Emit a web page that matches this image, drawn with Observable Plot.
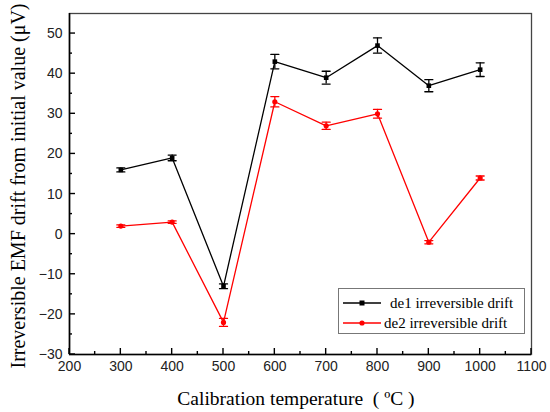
<!DOCTYPE html>
<html><head><meta charset="utf-8">
<script src="https://cdn.jsdelivr.net/npm/d3@7"></script>
<script src="https://cdn.jsdelivr.net/npm/@observablehq/plot@0.6"></script>
<style>
body{margin:0;background:#fff;}
#chart{position:relative;width:550px;height:412px;}
</style></head>
<body><div id="chart"></div>
<script>
const temps = [300, 400, 500, 600, 700, 800, 900, 1000];
const de1 = [16, 19, -13, 43, 39, 47, 37, 41];
const de1Err = [0.5, 0.7, 0.6, 1.8, 1.6, 1.9, 1.5, 1.7];
const de2 = [2, 3, -22, 33, 27, 30, -2, 14];
const de2Err = [0.3, 0.3, 1.0, 1.3, 0.9, 1.1, 0.4, 0.5];
const xDomain = [200, 1100];
const yDomain = [-30, 55];
const xTicks = [200, 300, 400, 500, 600, 700, 800, 900, 1000, 1100];
const xMinor = [250, 350, 450, 550, 650, 750, 850, 950, 1050];
const yTicks = [-30, -20, -10, 0, 10, 20, 30, 40, 50];
const yMinor = [-25, -15, -5, 5, 15, 25, 35, 45];
const seriesNames = ["de1 irreversible drift", "de2 irreversible drift"];
const colors = ["#000000", "#ff0000"];

const s1 = temps.map((t, i) => ({x: t, y: de1[i], lo: de1[i] - de1Err[i], hi: de1[i] + de1Err[i]}));
const s2 = temps.map((t, i) => ({x: t, y: de2[i], lo: de2[i] - de2Err[i], hi: de2[i] + de2Err[i]}));

const font = "Liberation Sans, Arial, sans-serif";
const serif = "Liberation Serif, Times New Roman, serif";

const lineShape = {draw(context, l) { context.moveTo(0, 0); context.lineTo(0, -l); }};

function seriesMarks(data, color, symbol) {
  return [
    Plot.line(data, {x: "x", y: "y", stroke: color, strokeWidth: 1.3}),
    Plot.ruleX(data, {x: "x", y1: "lo", y2: "hi", stroke: color, strokeWidth: 1.3}),
    Plot.vector(data, {x: "x", y: "hi", length: 8, rotate: 90, anchor: "middle", shape: lineShape, stroke: color, strokeWidth: 1.3}),
    Plot.vector(data, {x: "x", y: "lo", length: 8, rotate: 90, anchor: "middle", shape: lineShape, stroke: color, strokeWidth: 1.3}),
    Plot.dot(data, {x: "x", y: "y", symbol: symbol, r: 2.6, fill: color, stroke: null})
  ];
}

const chart = Plot.plot({
  width: 550,
  height: 412,
  marginLeft: 69,
  marginRight: 19,
  marginTop: 13,
  marginBottom: 58,
  style: {fontFamily: font, fontSize: "14px", color: "#222", background: "#fff"},
  x: {domain: xDomain},
  y: {domain: yDomain},
  marks: [
    Plot.frame({stroke: "#444", strokeWidth: 1.3}),
    Plot.axisX({ticks: xTicks, tickSize: 0, tickPadding: 7, label: null, tickFormat: d => String(d), fontSize: 14}),
    Plot.axisY({ticks: yTicks, tickSize: 0, tickPadding: 7, label: null, tickFormat: d => d < 0 ? "\u2212" + Math.abs(d) : String(d), fontSize: 14}),
    Plot.ruleX([xDomain[0]], {stroke: "#000", strokeWidth: 1.6}),
    Plot.ruleY([yDomain[0]], {stroke: "#000", strokeWidth: 1.6}),
    ...seriesMarks(s1, colors[0], "square"),
    ...seriesMarks(s2, colors[1], "circle")
  ]
});

document.getElementById("chart").appendChild(chart);
const svg = d3.select(chart);

// inward ticks placed with Plot's own scales
const xs = chart.scale("x"), ys = chart.scale("y");
const x0 = xs.apply(xDomain[0]), y0 = ys.apply(yDomain[0]);
const tg = svg.append("g").attr("stroke", "#000").attr("stroke-width", 1.4);
[[xTicks, 6], [xMinor, 3]].forEach(([ticks, len]) => ticks.forEach(t => {
  const px = xs.apply(t);
  tg.append("line").attr("x1", px).attr("x2", px).attr("y1", y0).attr("y2", y0 - len);
}));
[[yTicks, 6], [yMinor, 3]].forEach(([ticks, len]) => ticks.forEach(t => {
  const py = ys.apply(t);
  tg.append("line").attr("x1", x0).attr("x2", x0 + len).attr("y1", py).attr("y2", py);
}));

// axis titles
svg.append("text")
  .attr("transform", "translate(25,186) rotate(-90)")
  .attr("text-anchor", "middle")
  .attr("font-family", serif).attr("font-size", 20).attr("fill", "#000")
  .text("Irreversible EMF drift from initial value (\u03bcV)");
svg.append("text")
  .attr("x", 296).attr("y", 405)
  .attr("text-anchor", "middle")
  .attr("font-family", serif).attr("font-size", 19.5).attr("fill", "#000")
  .style("white-space", "pre")
  .text("Calibration temperature  ( \u00baC )");

// legend
const lg = svg.append("g").attr("text-anchor", "start");
lg.append("rect").attr("x", 338.5).attr("y", 288.5).attr("width", 186).attr("height", 45)
  .attr("fill", "#fff").attr("stroke", "#777").attr("stroke-width", 1);
seriesNames.forEach((name, i) => {
  const yy = 303 + i * 20;
  lg.append("line").attr("x1", 343).attr("x2", 381).attr("y1", yy).attr("y2", yy)
    .attr("stroke", colors[i]).attr("stroke-width", 1.3);
  if (i === 0) lg.append("rect").attr("x", 359.5).attr("y", yy - 2.5).attr("width", 5).attr("height", 5).attr("fill", colors[i]);
  else lg.append("circle").attr("cx", 362).attr("cy", yy).attr("r", 2.6).attr("fill", colors[i]);
  lg.append("text").attr("x", i === 0 ? 390 : 384).attr("y", yy + 5)
    .attr("text-anchor", "start")
    .attr("font-family", serif).attr("font-size", 15).attr("fill", "#000")
    .text(name);
});
</script></body></html>
